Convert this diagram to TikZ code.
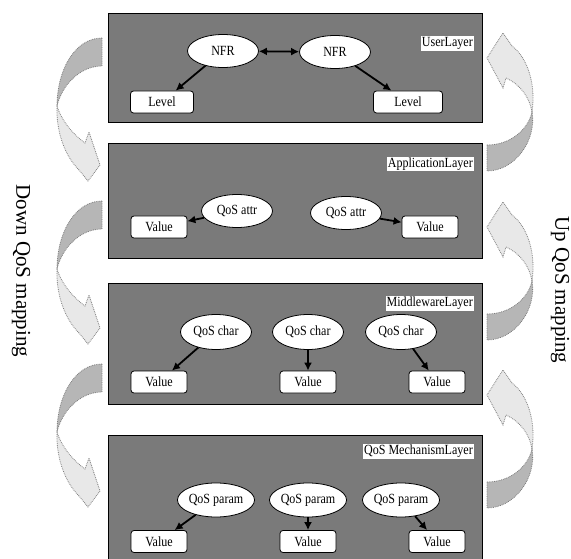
\documentclass[tikz,border=0pt]{standalone}
\usepackage{fontspec}
\setmainfont{Liberation Serif}[FakeStretch=0.86]
\newfontfamily\sidefont{Liberation Serif}
\usetikzlibrary{shapes.geometric,arrows.meta}
\definecolor{layerfill}{RGB}{122,122,122}
\definecolor{backband}{RGB}{182,182,182}
\definecolor{frontband}{RGB}{232,232,232}
\definecolor{bandline}{RGB}{125,125,125}
\begin{document}
\begin{tikzpicture}[x=1pt,y=-1pt,
  txt/.style={font=\fontsize{14}{16}\selectfont},
  layerbox/.style={draw=black,line width=0.8pt,fill=layerfill},
  attr/.style={ellipse,draw=black,line width=0.8pt,fill=white,minimum width=71pt,minimum height=33pt,inner sep=0pt,txt},
  valbox/.style={rectangle,rounded corners=3pt,draw=black,line width=0.8pt,fill=white,minimum width=56pt,minimum height=22pt,inner sep=0pt,txt},
  lbl/.style={fill=white,inner sep=1pt,txt,anchor=east},
  conn/.style={line width=1.8pt,-{Latex[length=8pt,width=8pt]}},
  dconn/.style={line width=1.8pt,{Latex[length=8pt,width=8pt]}-{Latex[length=8pt,width=8pt]}},
  bandback/.style={fill=backband,draw=bandline,densely dotted,line width=0.8pt},
  bandfront/.style={fill=frontband,draw=bandline,densely dotted,line width=0.8pt},
  sidetxt/.style={font=\sidefont\fontsize{21}{24}\selectfont,rotate=-90}]
\useasboundingbox (0,0) rectangle (571,559);
\clip (0,0) rectangle (571,559);

% layer boxes
\path[layerbox] (108,13) rectangle (482,122);
\path[layerbox] (108,143) rectangle (482,258);
\path[layerbox] (108,283) rectangle (482,404);
\path[layerbox] (108,435) rectangle (482,575);

% left curved arrows (down mapping)
\foreach \dy in {0,163,326}{
  \begin{scope}[shift={(0,\dy)}]
    \path[bandback] (102,38) .. controls (75,38) and (57,70) .. (57,106)
      .. controls (62,85) and (80,66) .. (102,66) -- cycle;
    \path[bandfront] (57,106) .. controls (62,122) and (74,135) .. (85,143)
      -- (89,132) -- (100,165) -- (88,181) -- (79,170)
      .. controls (64,155) and (56,130) .. (57,106) -- cycle;
  \end{scope}
}
% right curved arrows (up mapping)
\foreach \dy in {0,169,337}{
  \begin{scope}[shift={(0,\dy)}]
    \path[bandback] (487,145) .. controls (510,145) and (528,130) .. (532,112)
      .. controls (537,140) and (515,171) .. (487,171) -- cycle;
    \path[bandfront] (532,112) .. controls (536,85) and (528,58) .. (512,46)
      -- (503,33) -- (487,58) -- (503,88) -- (506,78)
      .. controls (520,84) and (530,98) .. (532,112) -- cycle;
  \end{scope}
}

% side texts
\node[sidetxt] (downtxt) at (21,271) {Down QoS mapping};
\node[sidetxt] (uptxt) at (560,290) {Up QoS mapping};

% User layer
\node[lbl] (ul) at (474,43.5) {UserLayer};
\node[attr] (nfr1) at (223,51) {NFR};
\node[attr] (nfr2) at (335,52) {NFR};
\node[valbox,minimum width=63pt] (lev1) at (162,102) {Level};
\node[valbox,minimum width=69pt] (lev2) at (408,102) {Level};
\draw[dconn] (nfr1) -- (nfr2);
\draw[conn] (nfr1) -- (lev1);
\draw[conn] (nfr2) -- (lev2);

% Application layer
\node[lbl] (al) at (474,164) {ApplicationLayer};
\node[attr] (qa1) at (237,211) {QoS attr};
\node[attr] (qa2) at (346,213) {QoS attr};
\node[valbox] (va1) at (159,227) {Value};
\node[valbox] (va2) at (430,227) {Value};
\draw[conn] (qa1) -- (va1);
\draw[conn] (qa2) -- (va2);

% Middleware layer
\node[lbl] (ml) at (474,303.5) {MiddlewareLayer};
\node[attr,minimum height=35pt] (qc1) at (216,332) {QoS char};
\node[attr,minimum height=35pt] (qc2) at (308,332) {QoS char};
\node[attr,minimum height=35pt] (qc3) at (401,332) {QoS char};
\node[valbox] (vm1) at (159,382) {Value};
\node[valbox] (vm2) at (308,382) {Value};
\node[valbox] (vm3) at (437,382) {Value};
\draw[conn] (qc1) -- (vm1);
\draw[conn] (qc2) -- (vm2);
\draw[conn] (qc3) -- (vm3);

% QoS Mechanism layer
\node[lbl] (ql) at (474,451.5) {QoS MechanismLayer};
\node[attr,minimum width=72pt,minimum height=34pt] (qp1) at (216,500) {QoS param};
\node[attr,minimum width=72pt,minimum height=34pt] (qp2) at (308,500) {QoS param};
\node[attr,minimum width=72pt,minimum height=34pt] (qp3) at (401,500) {QoS param};
\node[valbox] (vq1) at (159,541.5) {Value};
\node[valbox] (vq2) at (308,541.5) {Value};
\node[valbox] (vq3) at (437,541.5) {Value};
\draw[conn] (qp1) -- (vq1);
\draw[conn] (qp2) -- (vq2);
\draw[conn] (qp3) -- (vq3);
\end{tikzpicture}
\end{document}
